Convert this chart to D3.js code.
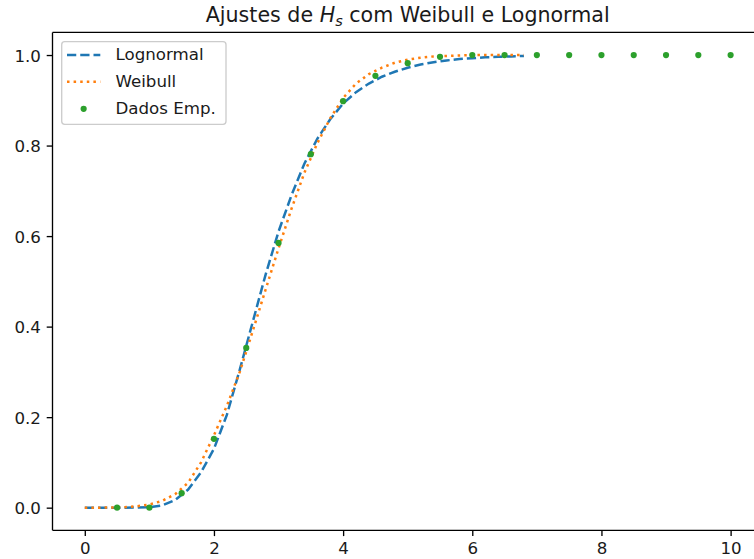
<!DOCTYPE html>
<html>
<head>
<meta charset="utf-8">
<script src="https://cdn.jsdelivr.net/npm/d3@7"></script>
<style>
  html, body { margin: 0; padding: 0; background: #ffffff; }
  svg { display: block; font-family: "DejaVu Sans", sans-serif; }
</style>
</head>
<body>
<svg id="chart" width="754" height="559"></svg>
<script>
// Fitted CDF curves, sampled on a common Hs grid (m)
const curveHs = [0.0, 0.2, 0.4, 0.6, 0.8, 1.0, 1.2, 1.4, 1.6, 1.8,
                 2.0, 2.2, 2.4, 2.6, 2.8, 3.0, 3.2, 3.4, 3.6, 3.8,
                 4.0, 4.2, 4.4, 4.6, 4.8, 5.0, 5.2, 5.4, 5.6, 5.8,
                 6.0, 6.2, 6.4, 6.6, 6.8];
const lognormalCdf = [0.000, 0.000, 0.000, 0.000, 0.0002, 0.001, 0.005, 0.017, 0.040, 0.078,
                      0.130, 0.205, 0.305, 0.410, 0.515, 0.610, 0.690, 0.760, 0.815, 0.858,
                      0.893, 0.918, 0.937, 0.952, 0.963, 0.972, 0.979, 0.984, 0.988, 0.991,
                      0.993, 0.995, 0.996, 0.997, 0.998];
const weibullCdf   = [0.000, 0.000, 0.0003, 0.001, 0.003, 0.007, 0.015, 0.030, 0.055, 0.100,
                      0.160, 0.225, 0.300, 0.390, 0.482, 0.573, 0.660, 0.740, 0.805, 0.860,
                      0.905, 0.937, 0.958, 0.972, 0.983, 0.990, 0.994, 0.997, 0.998, 0.999,
                      1.000, 1.000, 1.000, 1.000, 1.000];

// Empirical CDF of Hs
const empHs  = [0.5, 1.0, 1.5, 2.0, 2.5, 3.0, 3.5, 4.0, 4.5, 5.0,
                5.5, 6.0, 6.5, 7.0, 7.5, 8.0, 8.5, 9.0, 9.5, 10.0];
const empCdf = [0.000, 0.000, 0.032, 0.152, 0.353, 0.585, 0.781, 0.898, 0.954, 0.982,
                0.996, 1.000, 1.000, 1.000, 1.000, 1.000, 1.000, 1.000, 1.000, 1.000];

const xTicks = [0, 2, 4, 6, 8, 10];
const yTicks = [0.0, 0.2, 0.4, 0.6, 0.8, 1.0];

const colors = { lognormal: "#1f77b4", weibull: "#ff7f0e", emp: "#2ca02c" };

const svg = d3.select("#chart");

// Axes box (right edge runs past the visible canvas)
const axLeft = 52.5, axRight = 762.9, axTop = 32.4, axBottom = 530.3;

const x = d3.scaleLinear().domain([-0.5, 10.5]).range([axLeft, axRight]);
const y = d3.scaleLinear().domain([-0.05, 1.05]).range([axBottom, axTop]);

const fontPx = 16.67;
const tickLen = 5.8;
const tickPad = 5.8;

// X axis
const xAxis = d3.axisBottom(x)
  .tickValues(xTicks)
  .tickFormat(d3.format("d"))
  .tickSizeInner(tickLen).tickSizeOuter(0).tickPadding(tickPad);
const gx = svg.append("g").attr("transform", `translate(0,${axBottom})`).call(xAxis);
gx.select(".domain").remove();
gx.selectAll(".tick line").attr("stroke", "#000").attr("stroke-width", 1.33);
gx.selectAll(".tick text").attr("fill", "#1a1a1a").attr("font-size", fontPx)
  .attr("font-family", "DejaVu Sans").attr("dy", "0.72em");

// Y axis
const yAxis = d3.axisLeft(y)
  .tickValues(yTicks)
  .tickFormat(d3.format(".1f"))
  .tickSizeInner(tickLen).tickSizeOuter(0).tickPadding(tickPad);
const gy = svg.append("g").attr("transform", `translate(${axLeft},0)`).call(yAxis);
gy.select(".domain").remove();
gy.selectAll(".tick line").attr("stroke", "#000").attr("stroke-width", 1.33);
gy.selectAll(".tick text").attr("fill", "#1a1a1a").attr("font-size", fontPx)
  .attr("font-family", "DejaVu Sans").attr("dy", "0.36em");

// Curves
const curvePts = (vals) => curveHs.map((h, i) => [h, vals[i]]);
const line = d3.line().x(d => x(d[0])).y(d => y(d[1]));

svg.append("path")
  .datum(curvePts(lognormalCdf))
  .attr("d", line)
  .attr("fill", "none")
  .attr("stroke", colors.lognormal)
  .attr("stroke-width", 2.5)
  .attr("stroke-dasharray", "9.25,4");

svg.append("path")
  .datum(curvePts(weibullCdf))
  .attr("d", line)
  .attr("fill", "none")
  .attr("stroke", colors.weibull)
  .attr("stroke-width", 2.5)
  .attr("stroke-dasharray", "2.5,4.1");

// Empirical points
svg.append("g").selectAll("circle")
  .data(empHs.map((h, i) => [h, empCdf[i]]))
  .join("circle")
  .attr("cx", d => x(d[0]))
  .attr("cy", d => y(d[1]))
  .attr("r", 3.1)
  .attr("fill", colors.emp);

// Spines
const spines = svg.append("g").attr("stroke", "#000").attr("stroke-width", 1.33).attr("fill", "none");
spines.append("line").attr("x1", axLeft).attr("x2", axLeft).attr("y1", axTop).attr("y2", axBottom);
spines.append("line").attr("x1", axLeft).attr("x2", axRight).attr("y1", axBottom).attr("y2", axBottom);
spines.append("line").attr("x1", axLeft).attr("x2", axRight).attr("y1", axTop).attr("y2", axTop);
spines.append("line").attr("x1", axRight).attr("x2", axRight).attr("y1", axTop).attr("y2", axBottom);

// Title with H_s in math italics
const title = svg.append("text")
  .attr("x", (axLeft + axRight) / 2)
  .attr("y", 22)
  .attr("text-anchor", "middle")
  .attr("font-size", 20.6)
  .attr("fill", "#1a1a1a");
title.append("tspan").text("Ajustes de ");
title.append("tspan").attr("font-style", "italic").text("H");
title.append("tspan").attr("font-style", "italic").attr("font-size", 14.5).attr("dy", 3.6).text("s");
title.append("tspan").attr("dy", -3.6).text(" com Weibull e Lognormal");

// Legend
const legend = svg.append("g");
legend.append("rect")
  .attr("x", 61.7).attr("y", 41.7)
  .attr("width", 164.3).attr("height", 82.6)
  .attr("rx", 3).attr("ry", 3)
  .attr("fill", "#ffffff").attr("fill-opacity", 0.8)
  .attr("stroke", "#cccccc").attr("stroke-width", 1.33);

const legendItems = [
  { label: "Lognormal", kind: "line", color: colors.lognormal, dash: "9.25,4" },
  { label: "Weibull", kind: "line", color: colors.weibull, dash: "2.5,4.1" },
  { label: "Dados Emp.", kind: "point", color: colors.emp }
];
const rowY = [55, 81.7, 108.8];
const hx0 = 67, hx1 = 100.3;

legendItems.forEach((it, i) => {
  const g = legend.append("g");
  if (it.kind === "line") {
    g.append("line")
      .attr("x1", hx0).attr("x2", hx1)
      .attr("y1", rowY[i]).attr("y2", rowY[i])
      .attr("stroke", it.color).attr("stroke-width", 2.5)
      .attr("stroke-dasharray", it.dash);
  } else {
    g.append("circle")
      .attr("cx", (hx0 + hx1) / 2).attr("cy", rowY[i])
      .attr("r", 3.1).attr("fill", it.color);
  }
  g.append("text")
    .attr("x", 115.5).attr("y", rowY[i] + 5.2)
    .attr("font-size", fontPx).attr("fill", "#1a1a1a")
    .text(it.label);
});
</script>
</body>
</html>
